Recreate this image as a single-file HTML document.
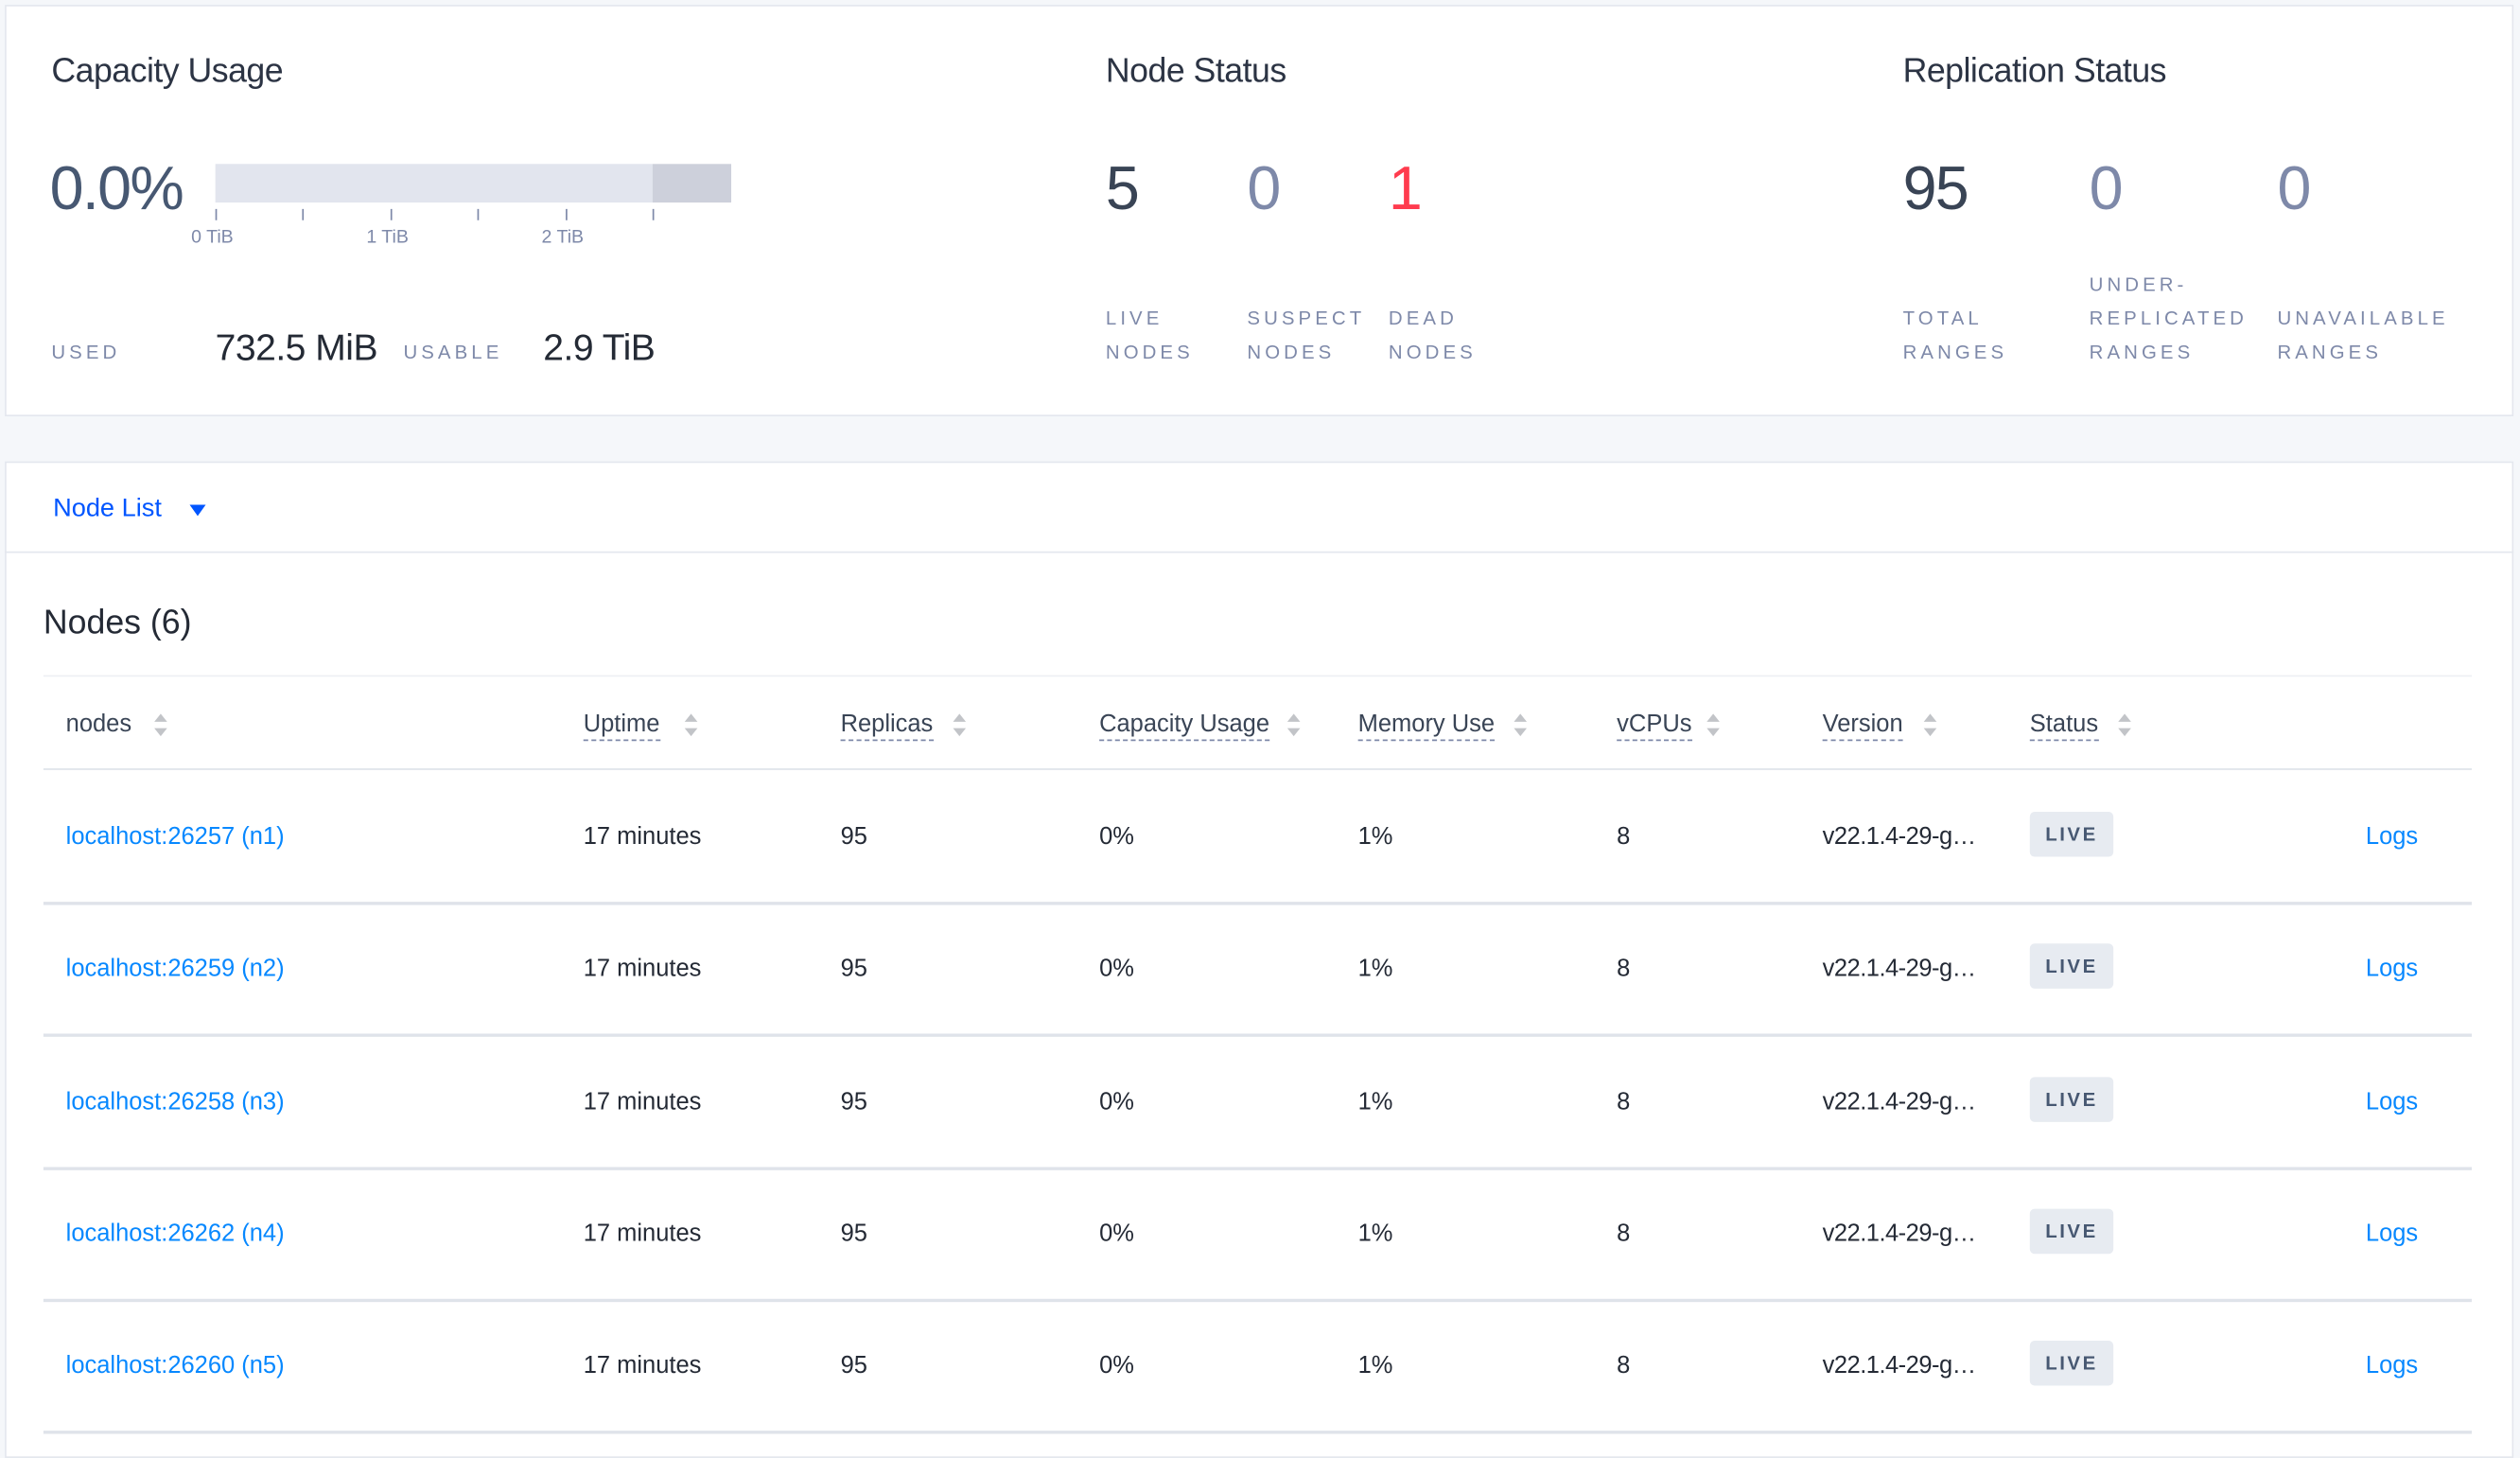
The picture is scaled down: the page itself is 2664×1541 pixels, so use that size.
<!DOCTYPE html>
<html><head><meta charset="utf-8"><style>
*{margin:0;padding:0;box-sizing:border-box}
html,body{width:2664px;height:1524px;overflow:hidden;background:#f5f7fa}
#s{position:absolute;left:0;top:0;width:1568px;height:897px;transform:scale(1.69898);transform-origin:0 0;font-family:"Liberation Sans",sans-serif;color:#242a35}
.a{position:absolute;white-space:nowrap}
.card{position:absolute;background:#fff;border:1px solid #e4e7ee}
.t{font-size:21px;color:#2c3444;letter-spacing:-0.3px}
.big{font-size:38px;color:#475872;letter-spacing:-1px}
.lb{font-size:12px;color:#7e89a9;letter-spacing:2.4px;line-height:21px}
.tick{position:absolute;width:1px;height:7px;background:#7e89a9;top:130px}
.tl{font-size:11.5px;color:#7e89a9;top:142px}
.h{font-size:15px;color:#394455;top:442px}
.h u{text-decoration:none;border-bottom:1px dashed #7e89a9;padding-bottom:1px}
.ar{position:absolute;width:0;height:0;border-left:4px solid transparent;border-right:4px solid transparent}
.c{font-size:15px;color:#242a35}
.lk{color:#0788ff}
.hl{position:absolute;left:27px;width:1511px;height:1px;background:#dfe3ea}
.badge{position:absolute;width:52px;height:28px;background:#e7ebf1;border-radius:3px;font-size:12px;font-weight:bold;color:#475872;letter-spacing:1.5px;text-align:center;line-height:28px}
</style></head><body><div id="s">
<div class="card" style="left:3px;top:3px;width:1561px;height:256px"></div>
<div class="a t" style="left:32px;top:33px">Capacity Usage</div>
<div class="a big" style="left:31px;top:97px">0.0%</div>
<div class="a" style="left:134px;top:102px;width:272px;height:24px;background:#e2e5ee"></div>
<div class="a" style="left:406px;top:102px;width:49px;height:24px;background:#cdd0db"></div>
<div class="tick" style="left:134px"></div><div class="tick" style="left:188px"></div><div class="tick" style="left:243px"></div><div class="tick" style="left:297px"></div><div class="tick" style="left:352px"></div><div class="tick" style="left:406px"></div>
<div class="a tl" style="left:119px">0 TiB</div><div class="a tl" style="left:228px">1 TiB</div><div class="a tl" style="left:337px">2 TiB</div>
<div class="a lb" style="left:32px;top:209px">USED</div>
<div class="a" style="left:134px;top:203px;font-size:23px;letter-spacing:-0.3px">732.5 MiB</div>
<div class="a lb" style="left:251px;top:209px">USABLE</div>
<div class="a" style="left:338px;top:203px;font-size:23px;letter-spacing:-0.3px">2.9 TiB</div>

<div class="a t" style="left:688px;top:33px">Node Status</div>
<div class="a big" style="left:688px;top:97px;color:#394455">5</div>
<div class="a big" style="left:776px;top:97px;color:#7e89a9">0</div>
<div class="a big" style="left:864px;top:97px;color:#ff3b4e">1</div>
<div class="a lb" style="left:688px;top:188px">LIVE<br>NODES</div>
<div class="a lb" style="left:776px;top:188px">SUSPECT<br>NODES</div>
<div class="a lb" style="left:864px;top:188px">DEAD<br>NODES</div>

<div class="a t" style="left:1184px;top:33px">Replication Status</div>
<div class="a big" style="left:1184px;top:97px;color:#394455">95</div>
<div class="a big" style="left:1300px;top:97px;color:#7e89a9">0</div>
<div class="a big" style="left:1417px;top:97px;color:#7e89a9">0</div>
<div class="a lb" style="left:1184px;top:188px">TOTAL<br>RANGES</div>
<div class="a lb" style="left:1300px;top:167px">UNDER-<br>REPLICATED<br>RANGES</div>
<div class="a lb" style="left:1417px;top:188px">UNAVAILABLE<br>RANGES</div>

<div class="card" style="left:3px;top:287px;width:1561px;height:620px"></div>
<div class="a" style="left:33px;top:308px;font-size:16px;color:#0055ff">Node List</div>
<div class="ar" style="left:118px;top:314px;border-top:7px solid #0055ff;border-left-width:5px;border-right-width:5px"></div>
<div class="a" style="left:3px;top:343px;width:1561px;height:1px;background:#e4e7ee"></div>
<div class="a" style="left:27px;top:376px;font-size:21px;color:#242a35">Nodes (6)</div>
<div class="hl" style="top:420px;background:#eef0f4"></div>
<div class="hl" style="top:478px"></div>

<div class="a h" style="left:41px">nodes</div>
<div class="a h" style="left:363px"><u>Uptime</u></div>
<div class="a h" style="left:523px"><u>Replicas</u></div>
<div class="a h" style="left:684px"><u>Capacity Usage</u></div>
<div class="a h" style="left:845px"><u>Memory Use</u></div>
<div class="a h" style="left:1006px"><u>vCPUs</u></div>
<div class="a h" style="left:1134px"><u>Version</u></div>
<div class="a h" style="left:1263px"><u>Status</u></div>
<div id="arrows"></div>

<div id="rows"></div>
</div>
<script>
var ax=[100,430,597,805,946,1066,1201,1322],h='';
ax.forEach(function(x){h+='<div class="ar" style="left:'+(x-4)+'px;top:444px;border-bottom:5px solid #c2c4c8"></div><div class="ar" style="left:'+(x-4)+'px;top:453px;border-top:5px solid #c2c4c8"></div>';});
document.getElementById('arrows').innerHTML=h;
var n=[['26257','n1'],['26259','n2'],['26258','n3'],['26262','n4'],['26260','n5']],r='';
n.forEach(function(a,i){var cy=520+i*82.3,y=cy-8;
r+='<div class="a c lk" style="left:41px;top:'+y+'px">localhost:'+a[0]+' ('+a[1]+')</div>'+
'<div class="a c" style="left:363px;top:'+y+'px">17 minutes</div>'+
'<div class="a c" style="left:523px;top:'+y+'px">95</div>'+
'<div class="a c" style="left:684px;top:'+y+'px">0%</div>'+
'<div class="a c" style="left:845px;top:'+y+'px">1%</div>'+
'<div class="a c" style="left:1006px;top:'+y+'px">8</div>'+
'<div class="a c" style="left:1134px;top:'+y+'px;letter-spacing:-0.3px">v22.1.4-29-g…</div>'+
'<div class="badge" style="left:1263px;top:'+(cy-15)+'px">LIVE</div>'+
'<div class="a c lk" style="left:1472px;top:'+y+'px">Logs</div>'+
'<div class="hl" style="top:'+(cy+41)+'px;height:2px"></div>';});
document.getElementById('rows').innerHTML=r;
</script>
</body></html>
